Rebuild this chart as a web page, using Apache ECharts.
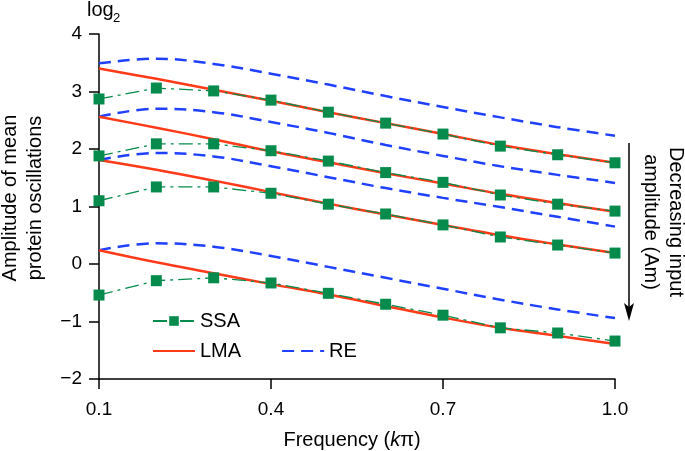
<!DOCTYPE html>
<html><head><meta charset="utf-8">
<script src="https://cdn.jsdelivr.net/npm/echarts@6/dist/echarts.min.js"></script>
<style>html,body{margin:0;padding:0;background:#fff}#c{width:685px;height:451px}</style>
</head><body><div id="c"></div>
<script>
// ---- data ----
const freq = [0.1, 0.2, 0.3, 0.4, 0.5, 0.6, 0.7, 0.8, 0.9, 1.0];
const xTickValues = [0.1, 0.4, 0.7, 1.0];
const yTickValues = [-2, -1, 0, 1, 2, 3, 4];

const ssa1 = [2.87, 3.06, 3.01, 2.85, 2.64, 2.45, 2.26, 2.05, 1.90, 1.76];
const ssa2 = [1.88, 2.09, 2.09, 1.97, 1.79, 1.59, 1.42, 1.20, 1.04, 0.92];
const ssa3 = [1.10, 1.34, 1.34, 1.23, 1.04, 0.87, 0.68, 0.47, 0.33, 0.19];
const ssa4 = [-0.54, -0.29, -0.24, -0.33, -0.51, -0.70, -0.89, -1.11, -1.20, -1.34];

const lma1 = [3.40, 3.22, 3.03, 2.84, 2.64, 2.45, 2.26, 2.07, 1.91, 1.76];
const lma2 = [2.56, 2.37, 2.17, 1.96, 1.77, 1.58, 1.40, 1.22, 1.06, 0.91];
const lma3 = [1.81, 1.64, 1.45, 1.25, 1.05, 0.86, 0.68, 0.50, 0.34, 0.19];
const lma4 = [0.24, 0.03, -0.16, -0.35, -0.53, -0.73, -0.93, -1.11, -1.25, -1.39];

const re1 = [3.49, 3.57, 3.48, 3.31, 3.12, 2.92, 2.73, 2.55, 2.38, 2.23];
const re2 = [2.56, 2.70, 2.64, 2.47, 2.28, 2.07, 1.88, 1.70, 1.55, 1.41];
const re3 = [1.81, 1.93, 1.87, 1.70, 1.51, 1.32, 1.15, 0.99, 0.82, 0.65];
const re4 = [0.24, 0.36, 0.30, 0.14, -0.05, -0.24, -0.43, -0.62, -0.79, -0.94];

// ---- style ----
const FONT = '"Liberation Sans", Arial, Helvetica, sans-serif';
const GREEN = '#078b4c', RED = '#ff3a18', BLUE = '#1f40ff';

const pts = ys => freq.map((x, i) => [x, ys[i]]);

function ssa(ys) {
  return { name: 'SSA', type: 'line', data: pts(ys), z: 5,
    symbol: 'rect', symbolSize: 11, showSymbol: true,
    itemStyle: { color: GREEN, borderWidth: 0 },
    lineStyle: { color: GREEN, width: 1.3, type: [14, 5, 3, 5] },
    emphasis: { disabled: true } };
}
function lma(ys) {
  return { name: 'LMA', type: 'line', data: pts(ys), z: 4, smooth: 0.4,
    symbol: 'none', itemStyle: { color: RED },
    lineStyle: { color: RED, width: 2.5 }, emphasis: { disabled: true } };
}
function re(ys) {
  return { name: 'RE', type: 'line', data: pts(ys), z: 3, smooth: 0.4,
    symbol: 'none', itemStyle: { color: BLUE },
    lineStyle: { color: BLUE, width: 2.5, type: [12, 7] }, emphasis: { disabled: true } };
}

const chart = echarts.init(document.getElementById('c'), null, { renderer: 'canvas' });
const axisCommon = {
  axisLine: { show: true, onZero: false, lineStyle: { color: '#000', width: 1.5 } },
  axisTick: { show: true, inside: false, length: 10, lineStyle: { color: '#000', width: 1.5 } },
  splitLine: { show: false }
};
const legendText = { fontSize: 20, color: '#000', fontFamily: FONT };
chart.setOption({
  animation: false,
  backgroundColor: '#fff',
  textStyle: { fontFamily: FONT },
  grid: { left: 99, right: 70, top: 34, bottom: 72, containLabel: false },
  xAxis: Object.assign({}, axisCommon, {
    type: 'value', min: 0.1, max: 1.0,
    axisTick: Object.assign({}, axisCommon.axisTick, { customValues: xTickValues }),
    axisLabel: { customValues: xTickValues, margin: 21, fontSize: 19, color: '#000', fontFamily: FONT,
      formatter: v => v.toFixed(1) }
  }),
  yAxis: Object.assign({}, axisCommon, {
    type: 'value', min: -2, max: 4, interval: 1,
    axisLabel: { margin: 17, fontSize: 19, color: '#000', fontFamily: FONT,
      formatter: v => (v < 0 ? '\u2212' + (-v) : String(v)) }
  }),
  legend: [
    { data: ['SSA'], left: 147, top: 306, itemWidth: 42, itemHeight: 12, itemGap: 40,
      textStyle: legendText, selectedMode: false },
    { data: [{ name: 'LMA', itemStyle: { opacity: 0 } }, { name: 'RE', itemStyle: { opacity: 0 } }],
      left: 147, top: 336, itemWidth: 42, itemHeight: 12, itemGap: 40,
      textStyle: legendText, selectedMode: false }
  ],
  series: [re(re1), re(re2), re(re3), re(re4),
           lma(lma1), lma(lma2), lma(lma3), lma(lma4),
           ssa(ssa1), ssa(ssa2), ssa(ssa3), ssa(ssa4)],
  graphic: [
    { type: 'text', x: 87, y: 10, style: { text: 'log', font: '20px ' + FONT, fill: '#000',
      textAlign: 'left', textVerticalAlign: 'middle' } },
    { type: 'text', x: 113, y: 18, style: { text: '2', font: '13px ' + FONT, fill: '#000',
      textAlign: 'left', textVerticalAlign: 'middle' } },
    { type: 'text', x: 23, y: 198, rotation: Math.PI / 2,
      style: { text: 'Amplitude of mean\nprotein oscillations', font: '20px ' + FONT, fill: '#000',
        lineHeight: 25, textAlign: 'center', textVerticalAlign: 'middle' } },
    { type: 'text', x: 663, y: 222, rotation: -Math.PI / 2,
      style: { text: 'Decreasing input\namplitude (Am)', font: '20px ' + FONT, fill: '#000',
        lineHeight: 25, textAlign: 'center', textVerticalAlign: 'middle' } },
    { type: 'text', x: 352, y: 440,
      style: { text: '{n|Frequency (}{i|k}{n|\u03c0)}', fill: '#000', textAlign: 'center', textVerticalAlign: 'middle',
        rich: { n: { fontSize: 20, fontFamily: FONT, color: '#000' },
                i: { fontSize: 20, fontFamily: FONT, fontStyle: 'italic', color: '#000' } } } },
    { type: 'line', shape: { x1: 629, y1: 143, x2: 629, y2: 312 }, style: { stroke: '#000', lineWidth: 1.5 } },
    { type: 'polygon', shape: { points: [[624, 303], [629, 321], [634, 303], [629, 307]] }, style: { fill: '#000' } }
  ]
});
</script></body></html>
